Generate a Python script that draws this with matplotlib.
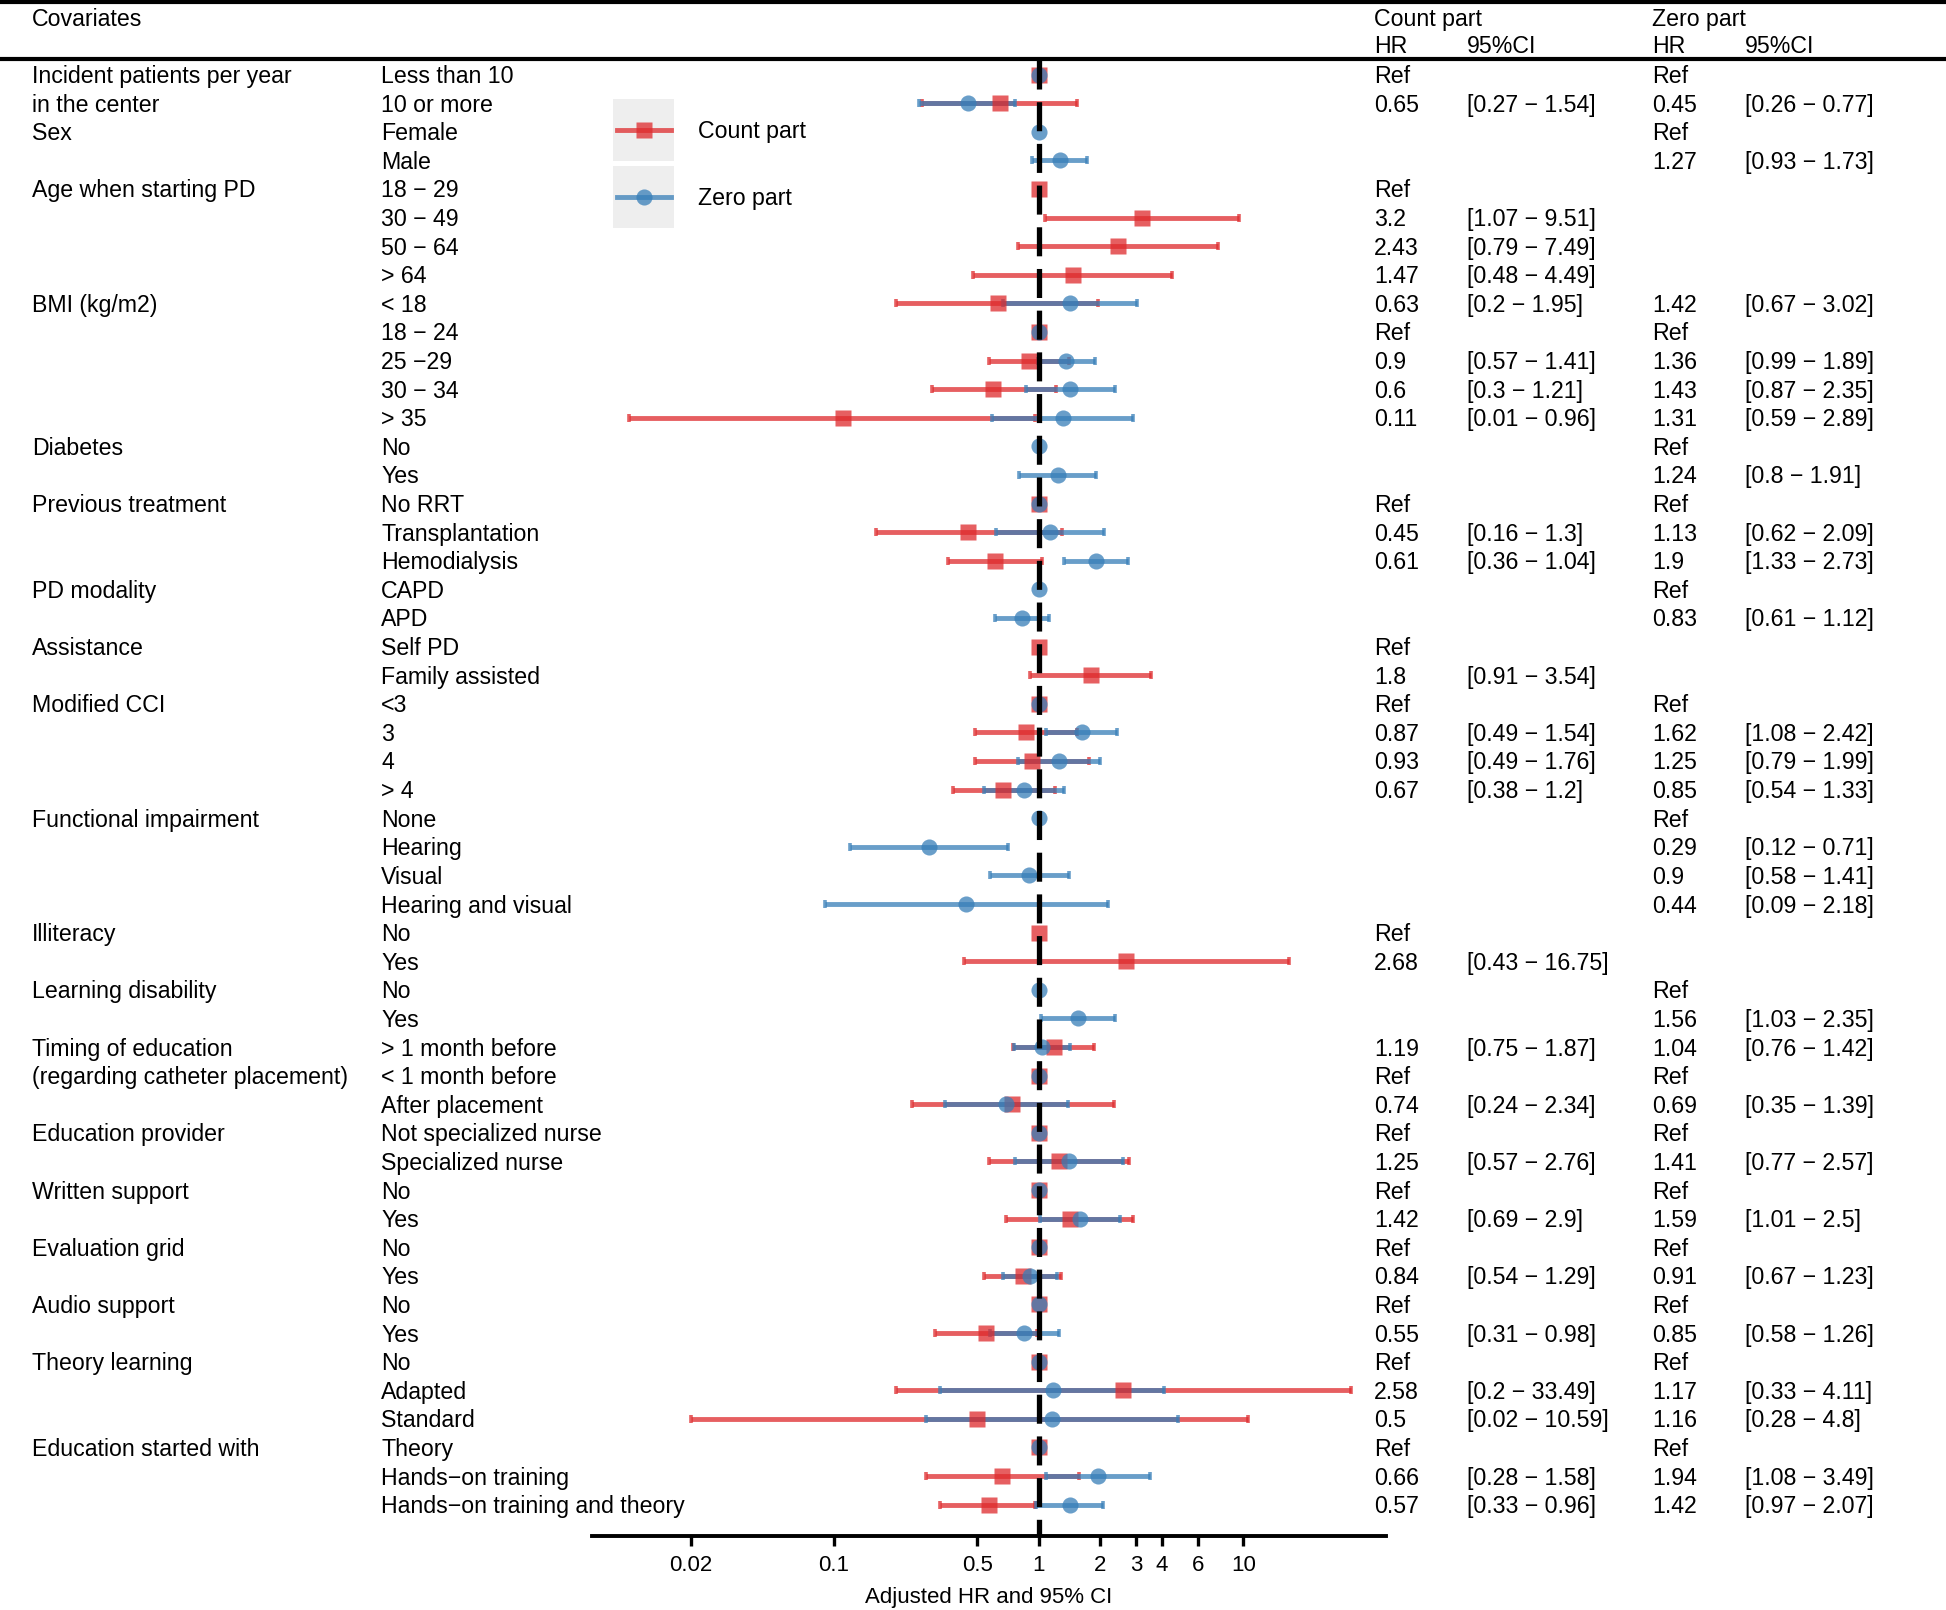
import matplotlib
matplotlib.use("Agg")
import matplotlib.pyplot as plt
from matplotlib.transforms import blended_transform_factory
from matplotlib.patches import Rectangle
from matplotlib.lines import Line2D
from matplotlib.ticker import NullLocator

plt.rcParams["font.family"] = ["Liberation Sans", "DejaVu Sans"]

M = "\u2212"  # minus sign used in the labels

covariates = ["Incident patients per year", "in the center", "Sex", "",
              "Age when starting PD", "", "", "", "BMI (kg/m2)", "", "", "", "",
              "Diabetes", "", "Previous treatment", "", "", "PD modality", "",
              "Assistance", "", "Modified CCI", "", "", "",
              "Functional impairment", "", "", "", "Illiteracy", "",
              "Learning disability", "", "Timing of education",
              "(regarding catheter placement)", "", "Education provider", "",
              "Written support", "", "Evaluation grid", "", "Audio support", "",
              "Theory learning", "", "", "Education started with", "", ""]
levels = ["Less than 10", "10 or more", "Female", "Male",
          f"18 {M} 29", f"30 {M} 49", f"50 {M} 64", "> 64",
          "< 18", f"18 {M} 24", f"25 {M}29", f"30 {M} 34", "> 35",
          "No", "Yes", "No RRT", "Transplantation", "Hemodialysis",
          "CAPD", "APD", "Self PD", "Family assisted",
          "<3", "3", "4", "> 4",
          "None", "Hearing", "Visual", "Hearing and visual",
          "No", "Yes", "No", "Yes",
          "> 1 month before", "< 1 month before", "After placement",
          "Not specialized nurse", "Specialized nurse",
          "No", "Yes", "No", "Yes", "No", "Yes",
          "No", "Adapted", "Standard",
          "Theory", f"Hands{M}on training", f"Hands{M}on training and theory"]

R = "Ref"
count_hr = [R, 0.65, None, None, R, 3.2, 2.43, 1.47, 0.63, R, 0.9, 0.6, 0.11,
            None, None, R, 0.45, 0.61, None, None, R, 1.8, R, 0.87, 0.93, 0.67,
            None, None, None, None, R, 2.68, None, None, 1.19, R, 0.74, R, 1.25,
            R, 1.42, R, 0.84, R, 0.55, R, 2.58, 0.5, R, 0.66, 0.57]
count_lo = [None, 0.27, None, None, None, 1.07, 0.79, 0.48, 0.2, None, 0.57, 0.3, 0.01,
            None, None, None, 0.16, 0.36, None, None, None, 0.91, None, 0.49, 0.49, 0.38,
            None, None, None, None, None, 0.43, None, None, 0.75, None, 0.24, None, 0.57,
            None, 0.69, None, 0.54, None, 0.31, None, 0.2, 0.02, None, 0.28, 0.33]
count_hi = [None, 1.54, None, None, None, 9.51, 7.49, 4.49, 1.95, None, 1.41, 1.21, 0.96,
            None, None, None, 1.3, 1.04, None, None, None, 3.54, None, 1.54, 1.76, 1.2,
            None, None, None, None, None, 16.75, None, None, 1.87, None, 2.34, None, 2.76,
            None, 2.9, None, 1.29, None, 0.98, None, 33.49, 10.59, None, 1.58, 0.96]

zero_hr = [R, 0.45, R, 1.27, None, None, None, None, 1.42, R, 1.36, 1.43, 1.31,
           R, 1.24, R, 1.13, 1.9, R, 0.83, None, None, R, 1.62, 1.25, 0.85,
           R, 0.29, 0.9, 0.44, None, None, R, 1.56, 1.04, R, 0.69, R, 1.41,
           R, 1.59, R, 0.91, R, 0.85, R, 1.17, 1.16, R, 1.94, 1.42]
zero_lo = [None, 0.26, None, 0.93, None, None, None, None, 0.67, None, 0.99, 0.87, 0.59,
           None, 0.8, None, 0.62, 1.33, None, 0.61, None, None, None, 1.08, 0.79, 0.54,
           None, 0.12, 0.58, 0.09, None, None, None, 1.03, 0.76, None, 0.35, None, 0.77,
           None, 1.01, None, 0.67, None, 0.58, None, 0.33, 0.28, None, 1.08, 0.97]
zero_hi = [None, 0.77, None, 1.73, None, None, None, None, 3.02, None, 1.89, 2.35, 2.89,
           None, 1.91, None, 2.09, 2.73, None, 1.12, None, None, None, 2.42, 1.99, 1.33,
           None, 0.71, 1.41, 2.18, None, None, None, 2.35, 1.42, None, 1.39, None, 2.57,
           None, 2.5, None, 1.23, None, 1.26, None, 4.11, 4.8, None, 3.49, 2.07]

xticks = [0.02, 0.1, 0.5, 1, 2, 3, 4, 6, 10]
xtick_labels = ["0.02", "0.1", "0.5", "1", "2", "3", "4", "6", "10"]

RED = "#DE2A2C"
BLUE = "#377EB8"
ALPHA = 0.75
FS = 16.7
W, H = 1946, 1610

fig = plt.figure(figsize=(W / 100, H / 100), dpi=100)
ax = fig.add_axes([592 / W, 1 - 1536 / H, (1386 - 592) / W, (1536 - 60) / H])
ax.set_xscale("log")
ax.set_xlim(0.00656, 49.8)
ax.set_ylim(51.1, -0.507)


def draw(hr, lo, hi, color, marker):
    rows = [i for i, v in enumerate(hr) if v is not None]
    xs = [1.0 if hr[i] == R else hr[i] for i in rows]
    ci = [i for i in rows if hr[i] != R]
    est = [hr[i] for i in ci]
    err = [[hr[i] - lo[i] for i in ci], [hi[i] - hr[i] for i in ci]]
    ax.errorbar(est, ci, xerr=err, fmt="none", ecolor=color, alpha=ALPHA,
                elinewidth=3.5, capsize=3.2, capthick=2.6, zorder=2)
    ax.plot(xs, rows, ls="none", marker=marker, ms=11.6, color=color,
            alpha=ALPHA, mec="none", zorder=3)


draw(count_hr, count_lo, count_hi, RED, "s")
draw(zero_hr, zero_lo, zero_hi, BLUE, "o")

y0, y1 = ax.get_ylim()
ax.plot([1, 1], [y1, y0], color="black", lw=3.8, dashes=(5.5, 2.4),
        zorder=5, solid_capstyle="butt", dash_capstyle="butt")

for s in ["top", "left", "right"]:
    ax.spines[s].set_visible(False)
ax.spines["bottom"].set_linewidth(2.8)
ax.set_yticks([])
ax.set_xticks(xticks)
ax.set_xticklabels(xtick_labels)
ax.xaxis.set_minor_locator(NullLocator())
ax.tick_params(axis="x", direction="out", length=7.5, width=2.4, pad=6,
               labelsize=16)
ax.set_xlabel("Adjusted HR and 95% CI", fontsize=16, labelpad=8)
ax.patch.set_visible(False)

# table text, rows follow the axes' y scale
tr = blended_transform_factory(fig.transFigure, ax.transData)
cols = {"cov": 32, "lev": 381, "chr": 1374, "cci": 1467, "zhr": 1652, "zci": 1745}
off = 0.30


def fmt_hr(v):
    return v if v == R else f"{v:g}"


def fmt_ci(h, lo, hi):
    if h is None or h == R:
        return ""
    return f"[{lo:g} {M} {hi:g}]"


for i in range(len(levels)):
    yb = i + off
    ax.text(cols["cov"] / W, yb, covariates[i], transform=tr, fontsize=FS, va="baseline")
    ax.text(cols["lev"] / W, yb, levels[i], transform=tr, fontsize=FS, va="baseline")
    if count_hr[i] is not None:
        ax.text(cols["chr"] / W, yb, fmt_hr(count_hr[i]), transform=tr, fontsize=FS, va="baseline")
        ax.text(cols["cci"] / W, yb, fmt_ci(count_hr[i], count_lo[i], count_hi[i]),
                transform=tr, fontsize=FS, va="baseline")
    if zero_hr[i] is not None:
        ax.text(cols["zhr"] / W, yb, fmt_hr(zero_hr[i]), transform=tr, fontsize=FS, va="baseline")
        ax.text(cols["zci"] / W, yb, fmt_ci(zero_hr[i], zero_lo[i], zero_hi[i]),
                transform=tr, fontsize=FS, va="baseline")

# header
fig.text(cols["cov"] / W, 1 - 26 / H, "Covariates", fontsize=FS, va="baseline")
fig.text(cols["chr"] / W, 1 - 26 / H, "Count part", fontsize=FS, va="baseline")
fig.text(cols["zhr"] / W, 1 - 26 / H, "Zero part", fontsize=FS, va="baseline")
for key, lab in [("chr", "HR"), ("cci", "95%CI"), ("zhr", "HR"), ("zci", "95%CI")]:
    fig.text(cols[key] / W, 1 - 53 / H, lab, fontsize=FS, va="baseline")
fig.add_artist(Line2D([0, 1], [1 - 2 / H] * 2, color="black", lw=3.0,
                      transform=fig.transFigure))
fig.add_artist(Line2D([0, 1], [1 - 59 / H] * 2, color="black", lw=3.0,
                      transform=fig.transFigure))

# legend with grey key boxes
for top, color, marker, label, base in [(99, RED, "s", "Count part", 138),
                                        (166, BLUE, "o", "Zero part", 205)]:
    fig.add_artist(Rectangle((613 / W, 1 - (top + 62) / H), 61 / W, 62 / H,
                             transform=fig.transFigure, facecolor="#EEEEEE",
                             edgecolor="none"))
    yc = 1 - (top + 31) / H
    fig.add_artist(Line2D([617 / W, 671 / W], [yc, yc], color=color, lw=3.5,
                          alpha=ALPHA, transform=fig.transFigure))
    fig.add_artist(Line2D([644 / W], [yc], color=color, marker=marker, ms=11.6,
                          mec="none", ls="none", alpha=ALPHA,
                          transform=fig.transFigure))
    fig.text(698 / W, 1 - base / H, label, fontsize=FS, va="baseline")

fig.savefig("out.png", dpi=100)
